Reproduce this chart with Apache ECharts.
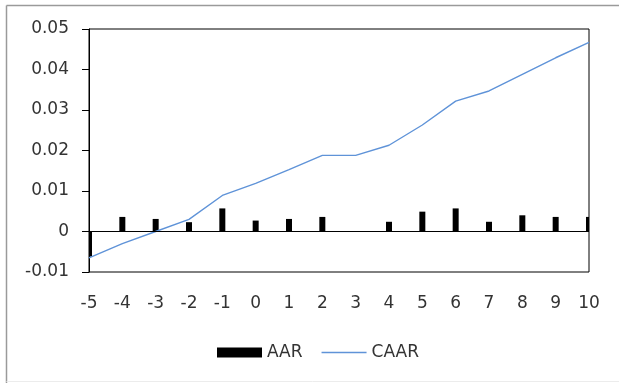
<!DOCTYPE html>
<html><head><meta charset="utf-8">
<script src="https://cdn.jsdelivr.net/npm/echarts@6/dist/echarts.min.js"></script>
<style>html,body{margin:0;padding:0;background:#fff}#c{width:619px;height:383px}</style>
</head><body><div id="c"></div>
<script>
var categories = ['-5','-4','-3','-2','-1','0','1','2','3','4','5','6','7','8','9','10'];
var aar = [-0.0062, 0.0036, 0.0031, 0.0023, 0.0057, 0.0027, 0.0031, 0.0036, 0.0, 0.0024, 0.0049, 0.0057, 0.0024, 0.0040, 0.0036, 0.0036];
var caar = [-0.0065, -0.0030, 0.0000, 0.0030, 0.0089, 0.0119, 0.0153, 0.0188, 0.0188, 0.0213, 0.0263, 0.0322, 0.0347, 0.0388, 0.0429, 0.0467];
var yTicks = ['-0.01','0','0.01','0.02','0.03','0.04','0.05'];

var font = 'DejaVu Sans';
var aarData = aar.map(function (v, i) { return [i, v]; });
var chart = echarts.init(document.getElementById('c'));
chart.setOption({
  animation: false,
  graphic: [
    {type:'line', shape:{x1:6.5,y1:5.5,x2:619,y2:5.5}, style:{stroke:'#9a9a9a', lineWidth:1.5}, silent:true},
    {type:'line', shape:{x1:6.5,y1:5.5,x2:6.5,y2:383}, style:{stroke:'#9a9a9a', lineWidth:1.5}, silent:true},
    {type:'line', shape:{x1:6.5,y1:381.5,x2:619,y2:381.5}, style:{stroke:'#ececec', lineWidth:1}, silent:true}
  ],
  grid: {left: 89, top: 29, right: 30, bottom: 111, show: true, borderColor: '#000', borderWidth: 1},
  legend: {
    bottom: 17, left: 212, itemWidth: 45, itemHeight: 10, itemGap: 19,
    textStyle: {fontFamily: font, fontSize: 17, color: '#333'},
    data: [{name:'AAR', icon:'rect'}, {name:'CAAR', icon:'path://M0,0L45,0L45,1.3L0,1.3Z'}]
  },
  xAxis: {
    type: 'category', data: categories, boundaryGap: false,
    axisLine: {show: false, onZero: false}, axisTick: {show: false},
    axisLabel: {fontFamily: font, fontSize: 17, color: '#333', margin: 23, interval: 0}
  },
  yAxis: {
    type: 'value', min: -0.01, max: 0.05, interval: 0.01,
    axisLine: {show: true, lineStyle: {color: '#000'}},
    axisTick: {show: true, length: 7, lineStyle: {color: '#000'}},
    splitLine: {show: false},
    axisLabel: {fontFamily: font, fontSize: 17, color: '#333', margin: 20,
      formatter: function (v) { var i = Math.round((v + 0.01) / 0.01); return yTicks[i]; }}
  },
  series: [
    {name: 'AAR', type: 'custom', data: aarData, itemStyle: {color: '#000'},
     encode: {x: 0, y: 1},
     renderItem: function (params, api) {
       var p0 = api.coord([api.value(0), 0]);
       var p1 = api.coord([api.value(0), api.value(1)]);
       var w = 6;
       var rect = {x: p0[0] - w / 2, y: Math.min(p0[1], p1[1]), width: w, height: Math.abs(p1[1] - p0[1])};
       var cs = params.coordSys;
       var clipped = echarts.graphic.clipRectByRect(rect, {x: cs.x, y: cs.y, width: cs.width, height: cs.height});
       if (!clipped) return null;
       return {type: 'rect', shape: clipped, style: {fill: '#000'}};
     },
     markLine: {silent: true, symbol: 'none', label: {show: false},
       lineStyle: {color: '#000', width: 1, type: 'solid'}, data: [{yAxis: 0}]}},
    {name: 'CAAR', type: 'line', data: caar, symbol: 'none', lineStyle: {color: '#5f93d8', width: 1.4}, itemStyle: {color: '#5f93d8'}}
  ]
});
</script></body></html>
